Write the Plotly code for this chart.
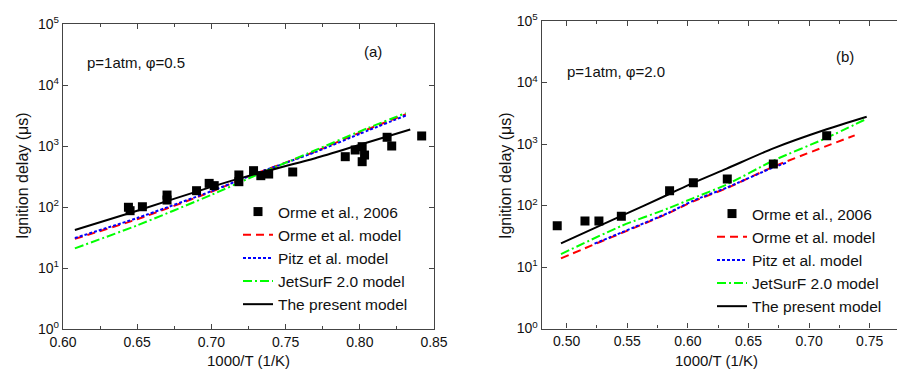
import plotly.graph_objects as go

W, H = 897, 372

# ---------------- Panel (a): p=1atm, phi=0.5 ----------------
a_exp_x = [0.6441, 0.6452, 0.6535, 0.6701, 0.6701, 0.6900, 0.6985, 0.7019, 0.7185, 0.7185,
           0.7284, 0.7333, 0.7386, 0.7548, 0.7902, 0.7969, 0.8016, 0.8032, 0.8016, 0.8184,
           0.8215, 0.8417]
a_exp_y = [99, 87, 101, 157, 130, 185, 244, 224, 335, 260,
           394, 326, 347, 375, 668, 860, 975, 711, 553, 1390,
           1000, 1460]

a_orme_x = [0.608, 0.65, 0.70, 0.728, 0.77, 0.80, 0.831]
a_orme_y = [30, 63, 178, 339, 813, 1660, 3311]
a_pitz_x = [0.608, 0.65, 0.70, 0.728, 0.77, 0.80, 0.831]
a_pitz_y = [31, 66, 182, 339, 794, 1585, 3162]
a_jet_x = [0.608, 0.65, 0.70, 0.728, 0.77, 0.80, 0.831]
a_jet_y = [21, 50, 158, 316, 851, 1738, 3467]
a_pres_x = [0.608, 0.65, 0.70, 0.728, 0.77, 0.80, 0.834]
a_pres_y = [42, 87, 214, 339, 631, 1047, 1862]

# ---------------- Panel (b): p=1atm, phi=2.0 ----------------
b_exp_x = [0.4922, 0.5151, 0.5266, 0.5451, 0.5849, 0.6045, 0.6325, 0.6705, 0.7145]
b_exp_y = [47, 56, 56, 67, 174, 235, 270, 473, 1365]

b_orme_x = [0.4953, 0.5248, 0.5451, 0.5838, 0.6045, 0.632, 0.6705, 0.7376]
b_orme_y = [13.8, 24.3, 35.5, 74.6, 117, 191, 427, 1380]
b_pitz_x = [0.523, 0.5451, 0.5838, 0.6045, 0.632, 0.6705, 0.682]
b_pitz_y = [24, 36.3, 75.9, 120, 195, 417, 501]
b_jet_x = [0.4953, 0.5451, 0.5838, 0.6045, 0.632, 0.6705, 0.7145, 0.7475]
b_jet_y = [16.2, 46.5, 89.9, 132, 219, 537, 1259, 2570]
b_pres_x = [0.4953, 0.5451, 0.5838, 0.6045, 0.632, 0.6705, 0.7145, 0.7475]
b_pres_y = [24.3, 67.6, 151, 234, 398, 851, 1738, 2780]

x_ticks_a = [0.60, 0.65, 0.70, 0.75, 0.80, 0.85]
x_ticks_b = [0.50, 0.55, 0.60, 0.65, 0.70, 0.75]
y_ticks = [1, 10, 100, 1000, 10000, 100000]
y_tick_text = ["10<sup>0</sup>", "10<sup>1</sup>", "10<sup>2</sup>", "10<sup>3</sup>",
               "10<sup>4</sup>", "10<sup>5</sup>"]

names = ["Orme et al., 2006", "Orme et al. model", "Pitz et al. model",
         "JetSurF 2.0 model", "The present model"]

FONT = "Liberation Sans, Arial, sans-serif"

fig = go.Figure()


def add_panel(xa, ya, leg, exp_x, exp_y, orme, pitz, jet, pres):
    common = dict(xaxis=xa, yaxis=ya, legend=leg)
    fig.add_trace(go.Scatter(x=orme[0], y=orme[1], mode="lines", name=names[1],
                             line=dict(color="#FF0000", width=2, dash="8px,5px", shape="spline", smoothing=0.6),
                             legendrank=2, **common))
    fig.add_trace(go.Scatter(x=pitz[0], y=pitz[1], mode="lines", name=names[2],
                             line=dict(color="#0000FF", width=2, dash="3px,2px", shape="spline", smoothing=0.6),
                             legendrank=3, **common))
    fig.add_trace(go.Scatter(x=jet[0], y=jet[1], mode="lines", name=names[3],
                             line=dict(color="#00FF00", width=2, dash="9px,3px,2px,3px", shape="spline", smoothing=0.6),
                             legendrank=4, **common))
    fig.add_trace(go.Scatter(x=pres[0], y=pres[1], mode="lines", name=names[4],
                             line=dict(color="#000000", width=2, shape="spline", smoothing=0.6),
                             legendrank=5, **common))
    fig.add_trace(go.Scatter(x=exp_x, y=exp_y, mode="markers", name=names[0],
                             marker=dict(symbol="square", size=9, color="#000000"),
                             legendrank=1, **common))


add_panel("x", "y", "legend", a_exp_x, a_exp_y,
          (a_orme_x, a_orme_y), (a_pitz_x, a_pitz_y), (a_jet_x, a_jet_y), (a_pres_x, a_pres_y))
add_panel("x2", "y2", "legend2", b_exp_x, b_exp_y,
          (b_orme_x, b_orme_y), (b_pitz_x, b_pitz_y), (b_jet_x, b_jet_y), (b_pres_x, b_pres_y))

axis_line = dict(showline=True, linecolor="#444444", linewidth=1.3, showgrid=False, zeroline=False,
                 ticks="inside", tickcolor="#444444", tickwidth=1.2, ticklen=5,
                 tickfont=dict(family=FONT, size=14, color="#111111"), automargin=False)

LEG_FONT = dict(family=FONT, size=15.5, color="#111111")

fig.update_layout(
    width=W, height=H,
    margin=dict(l=0, r=0, t=0, b=0),
    paper_bgcolor="white", plot_bgcolor="white",
    font=dict(family=FONT, size=15, color="#111111"),
    xaxis=dict(domain=[63 / W, 434 / W], range=[0.60, 0.85], tickvals=x_ticks_a,
               ticktext=["%.2f" % v for v in x_ticks_a], mirror="ticks",
               minor=dict(dtick=0.025, tick0=0.6, ticks="inside", ticklen=3, tickcolor="#444444", showgrid=False),
               anchor="y", **axis_line),
    yaxis=dict(domain=[1 - 329 / H, 1 - 24 / H], type="log", range=[0, 5], tickvals=y_ticks,
               ticktext=y_tick_text, mirror="ticks", anchor="x", **axis_line),
    xaxis2=dict(domain=[541.7 / W, 1.0], range=[0.4794, 0.7725], tickvals=x_ticks_b,
                ticktext=["%.2f" % v for v in x_ticks_b], mirror="ticks",
                minor=dict(dtick=0.025, tick0=0.5, ticks="inside", ticklen=3, tickcolor="#444444", showgrid=False),
                anchor="y2", **axis_line),
    yaxis2=dict(domain=[1 - 328.5 / H, 1 - 21 / H], type="log", range=[0, 5], tickvals=y_ticks,
                ticktext=y_tick_text, mirror=False, anchor="x2", **axis_line),
    legend=dict(x=238 / W, y=1 - 195 / H, xanchor="left", yanchor="top",
                bgcolor="rgba(0,0,0,0)", font=LEG_FONT, tracegroupgap=0),
    legend2=dict(x=712 / W, y=1 - 197 / H, xanchor="left", yanchor="top",
                 bgcolor="rgba(0,0,0,0)", font=LEG_FONT, tracegroupgap=0),
    showlegend=True,
)

ann_font = dict(family=FONT, size=15, color="#111111")
annotations = [
    dict(text="p=1atm, φ=0.5", x=85 / W, y=1 - 63 / H, xanchor="left", yanchor="middle"),
    dict(text="(a)", x=373 / W, y=1 - 52 / H, xanchor="center", yanchor="middle"),
    dict(text="p=1atm, φ=2.0", x=565 / W, y=1 - 71 / H, xanchor="left", yanchor="middle"),
    dict(text="(b)", x=845 / W, y=1 - 57 / H, xanchor="center", yanchor="middle"),
    dict(text="Ignition delay (μs)", x=22 / W, y=1 - 176 / H, xanchor="center", yanchor="middle",
         textangle=-90, font=dict(family=FONT, size=16, color="#111111")),
    dict(text="Ignition delay (μs)", x=505 / W, y=1 - 176 / H, xanchor="center", yanchor="middle",
         textangle=-90, font=dict(family=FONT, size=16, color="#111111")),
    dict(text="1000/T (1/K)", x=248 / W, y=1 - 360 / H, xanchor="center", yanchor="middle",
         font=dict(family=FONT, size=15, color="#111111")),
    dict(text="1000/T (1/K)", x=716 / W, y=1 - 360 / H, xanchor="center", yanchor="middle",
         font=dict(family=FONT, size=15, color="#111111")),
]
for a in annotations:
    a.setdefault("font", ann_font)
    a.update(xref="paper", yref="paper", showarrow=False)
    fig.add_annotation(**a)

fig.write_html("out.html", config={"displayModeBar": False},
               post_script="document.body.style.margin='0';document.body.style.overflow='hidden';")
